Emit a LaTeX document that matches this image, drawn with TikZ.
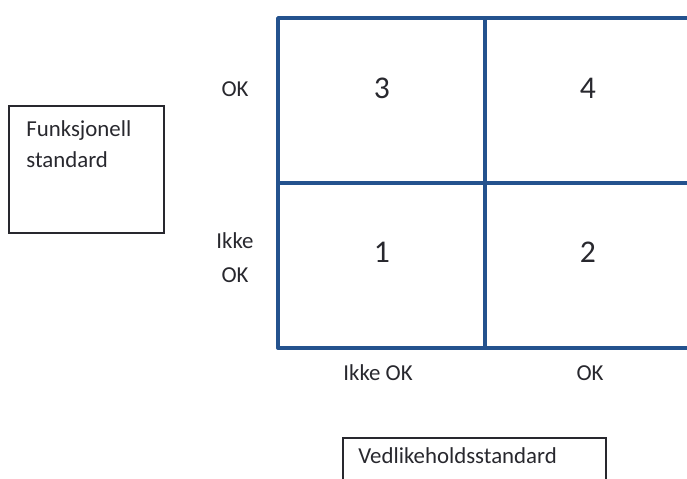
\documentclass[tikz,border=0pt]{standalone}
\usepackage{fontspec}
\setmainfont{Carlito}
\usetikzlibrary{positioning}
\definecolor{gridblue}{RGB}{36,82,142}
\definecolor{txtgray}{RGB}{40,40,46}

\begin{document}
\begin{tikzpicture}[
        x=0.02cm, y=-0.02cm,
        lbl/.style={text=txtgray,inner sep=0pt,font={\fontsize{13}{15}\selectfont}},
        num/.style={text=txtgray,inner sep=0pt,font={\fontsize{18}{20}\selectfont}},
        cellline/.style={draw=gridblue,line width=2.2pt,line cap=round,line join=round},
        boxline/.style={draw=txtgray,line width=0.8pt}
    ]
    \useasboundingbox (0,0) rectangle (687,478);
    \clip (0,0) rectangle (687,478);

    % grid
    \coordinate (tl) at (278,18);
    \coordinate (tm) at (485,18);
    \coordinate (tr) at (700,18);
    \coordinate (ml) at (278,183);
    \coordinate (mr) at (700,183);
    \coordinate (bl) at (278,348);
    \coordinate (bm) at (485,348);
    \coordinate (br) at (700,348);
    \draw[cellline] (tr) -- (tl) -- (bl) -- (br);
    \draw[cellline] (ml) -- (mr);
    \draw[cellline] (tm) -- (bm);

    % cell numbers
    \node[num] (c3) at (382,88)  {3};
    \node[num] (c4) at (588,88)  {4};
    \node[num] (c1) at (382,252) {1};
    \node[num] (c2) at (588,252) {2};

    % axis labels
    \node[lbl,anchor=base]      (yok)   at (235,96)  {OK};
    \node[lbl,anchor=base]      (yikke) at (235,248) {Ikke};
    \node[lbl,anchor=base]      (yok2)  at (235,282) {OK};
    \node[lbl,anchor=base west] (xikke) at (343,380) {Ikke OK};
    \node[lbl,anchor=base]      (xok)   at (590,380) {OK};

    % axis titles
    \draw[boxline] (9,106) rectangle (164,233);
    \node[lbl,anchor=base west] (funk)  at (26,136) {Funksjonell};
    \node[lbl,anchor=base west] (stand) at (26,167) {standard};
    \draw[boxline] (343,490) -- (343,438) -- (606,438) -- (606,490);
    \node[lbl,anchor=base west] (vedl) at (358,463) {Vedlikeholdsstandard};
\end{tikzpicture}
\end{document}
